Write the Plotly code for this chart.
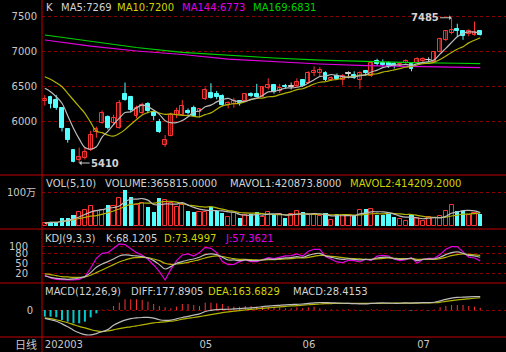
import plotly.graph_objects as go
import pandas as pd

W, H = 506, 352

# ---------------- data ----------------
opens = [6300, 6360, 6310, 6190, 5900, 5600, 5450, 5480, 5600, 5860,
         5980, 6070, 5980, 5910, 6400, 6360, 6080, 6130, 6260, 6140,
         6000, 5670, 5800, 6100, 6100, 6160, 6200, 6145, 6320, 6410,
         6400, 6370, 6240, 6250, 6290, 6290, 6390, 6400, 6360, 6480,
         6520, 6440, 6510, 6500, 6510, 6600, 6550, 6700, 6690, 6700,
         6600, 6660, 6590, 6690, 6670, 6590, 6720, 6650, 6870, 6840,
         6840, 6830, 6810, 6845, 6830, 6840, 6870, 6880, 6860, 7000,
         7170, 7270, 7320, 7290, 7250, 7240, 7300]
highs = [6380, 6370, 6380, 6200, 5910, 5600, 5630, 5640, 5870, 5930,
         6160, 6090, 6100, 6310, 6560, 6370, 6230, 6270, 6280, 6160,
         6040, 5810, 6130, 6200, 6310, 6190, 6230, 6190, 6490, 6550,
         6440, 6390, 6290, 6340, 6310, 6410, 6420, 6540, 6510, 6620,
         6540, 6540, 6540, 6560, 6620, 6610, 6720, 6790, 6780, 6720,
         6650, 6690, 6680, 6720, 6720, 6720, 6740, 6860, 6900, 6890,
         6860, 6850, 6850, 6890, 6850, 6920, 6920, 6920, 7010, 7200,
         7300, 7485, 7400, 7300, 7320, 7430, 7310]
lows = [6230, 6190, 6170, 5860, 5700, 5420, 5410, 5460, 5580, 5770,
        5970, 5890, 5960, 5900, 6300, 6130, 6050, 6100, 6120, 6020,
        5840, 5640, 5790, 6050, 6090, 6100, 6070, 6060, 6310, 6330,
        6320, 6220, 6190, 6200, 6230, 6280, 6350, 6350, 6350, 6460,
        6400, 6410, 6470, 6460, 6500, 6500, 6540, 6650, 6640, 6580,
        6580, 6600, 6520, 6620, 6610, 6470, 6660, 6640, 6800, 6790,
        6770, 6760, 6790, 6830, 6720, 6820, 6850, 6850, 6850, 6990,
        7150, 7250, 7210, 7170, 7220, 7230, 7230]
closes = [6330, 6260, 6190, 5910, 5740, 5430, 5500, 5570, 5810, 5900,
          6120, 5910, 6050, 6270, 6310, 6170, 6190, 6240, 6150, 6080,
          5860, 5740, 6100, 6160, 6220, 6130, 6080, 6175, 6460, 6340,
          6360, 6240, 6270, 6290, 6270, 6390, 6370, 6360, 6490, 6520,
          6420, 6480, 6490, 6500, 6570, 6510, 6690, 6720, 6740, 6590,
          6630, 6610, 6650, 6690, 6630, 6700, 6690, 6840, 6825, 6810,
          6790, 6790, 6830, 6870, 6750, 6900, 6890, 6880, 7000, 7180,
          7290, 7310, 7290, 7230, 7290, 7285, 7240]

# moving-average values before a full window is available
ma5_head = [6477, 6429, 6357, 6263]
ma10_head = [6643, 6606, 6557, 6500, 6406, 6310, 6214, 6120, 5990]

# long moving averages, read at sampled bars
ma_long_idx = [0, 8, 16, 24, 32, 40, 48, 56, 64, 72, 76]
ma144 = [7167, 7080, 7010, 6960, 6895, 6855, 6824, 6800, 6785, 6775, 6773]
ma169 = [7239, 7150, 7060, 6990, 6945, 6910, 6880, 6860, 6845, 6835, 6831]

volumes = [80000, 130000, 110000, 230000, 250000, 320000, 420000, 470000, 590000, 450000,
           470000, 620000, 590000, 810000, 1060000, 860000, 620000, 690000, 570000, 420000,
           810000, 760000, 670000, 570000, 620000, 450000, 420000, 420000, 420000, 550000,
           440000, 390000, 270000, 370000, 250000, 320000, 350000, 420000, 270000, 400000,
           350000, 350000, 230000, 350000, 450000, 400000, 320000, 320000, 290000, 370000,
           180000, 350000, 320000, 320000, 320000, 470000, 490000, 490000, 320000, 320000,
           350000, 270000, 200000, 160000, 320000, 230000, 160000, 270000, 250000, 290000,
           450000, 620000, 450000, 450000, 320000, 390000, 365815]

k_vals = [12, 8, 5, 3, 2, 3, 6, 10, 22, 38,
          48, 55, 63, 72, 75, 74, 72, 70, 66, 58,
          46, 33, 40, 50, 55, 60, 63, 68, 76, 78,
          76, 68, 60, 60, 58, 60, 58, 58, 60, 63,
          62, 64, 66, 67, 70, 68, 74, 78, 80, 72,
          68, 64, 62, 63, 62, 60, 62, 61, 66, 68,
          68, 64, 62, 63, 65, 58, 62, 63, 63, 68,
          76, 82, 84, 80, 74, 72, 68.12]
d_vals = [18, 16, 13, 10, 9, 8, 8, 9, 14, 22,
          30, 38, 46, 54, 60, 65, 67, 68, 67, 63,
          58, 50, 47, 48, 50, 53, 57, 61, 66, 70,
          72, 70, 67, 64, 62, 62, 61, 60, 60, 61,
          61, 62, 63, 64, 66, 66, 68, 71, 74, 73,
          71, 69, 67, 65, 64, 63, 62, 62, 63, 65,
          66, 65, 64, 64, 64, 62, 62, 62, 62, 64,
          68, 73, 76, 78, 77, 75, 73.50]
j_vals = [15, 6, 2, 0, 0, 0, 2, 10, 35, 65,
          80, 82, 95, 108, 106, 95, 82, 74, 62, 45,
          25, 0, 32, 58, 75, 78, 72, 82, 98, 95,
          82, 55, 46, 47, 55, 60, 55, 55, 60, 67,
          64, 68, 72, 73, 78, 72, 86, 92, 92, 70,
          62, 54, 52, 59, 58, 54, 62, 59, 72, 74,
          72, 62, 58, 61, 67, 50, 62, 65, 65, 76,
          92, 100, 100, 84, 68, 66, 57.36]

diff_vals = [-111, -130, -150, -185, -225, -270, -305, -330, -333, -315,
             -290, -262, -205, -165, -135, -115, -105, -100, -98, -108,
             -130, -138, -135, -118, -100, -85, -68, -52, -20, -5,
             5, 8, 10, 14, 18, 24, 28, 35, 45, 52,
             58, 63, 68, 72, 76, 80, 88, 96, 100, 98,
             96, 93, 90, 88, 85, 82, 82, 88, 92, 94,
             92, 90, 90, 94, 92, 96, 98, 98, 104, 122,
             142, 158, 168, 172, 176, 178, 177.89]
dea_vals = [-105, -115, -130, -150, -170, -195, -220, -240, -262, -280,
            -288, -280, -265, -248, -235, -225, -212, -200, -185, -172,
            -165, -158, -150, -140, -122, -110, -100, -88, -75, -62,
            -48, -35, -25, -15, -8, 0, 8, 15, 22, 28,
            35, 42, 48, 54, 58, 64, 70, 76, 80, 84,
            86, 88, 88, 88, 88, 88, 88, 88, 89, 90,
            90, 91, 91, 92, 92, 93, 94, 95, 97, 103,
            115, 125, 135, 143, 150, 157, 163.68]
macd_hist = [-89, -89, -98, -134, -156, -178, -178, -156, -98, -45,
             5, 9, 53, 98, 143, 143, 143, 134, 111, 80,
             53, 36, 22, 45, 80, 80, 67, 53, 98, 98,
             89, 80, 53, 45, 45, 53, 53, 45, 45, 36,
             36, 36, 22, 22, 36, 22, 36, 45, 22, 9,
             9, 5, 5, 9, 5, -5, 5, 9, 9, 5,
             5, -5, -5, 5, -9, 5, 5, -5, 5, 36,
             53, 67, 67, 67, 53, 45, 28.42]

month_pos = [0, 27, 45, 65]
month_labels = ["202003", "05", "06", "07"]

# ---------------- derived ----------------
n = len(closes)
xs = list(range(n))
cl = pd.Series(closes, dtype=float)
ma5 = ma5_head + cl.rolling(5).mean().tolist()[len(ma5_head):]
ma10 = ma10_head + cl.rolling(10).mean().tolist()[len(ma10_head):]
vs = pd.Series(volumes, dtype=float)
mavol1 = vs.rolling(5, min_periods=1).mean().tolist()
mavol2 = vs.rolling(10, min_periods=1).mean().tolist()

RED = "#ff3232"
CYAN = "#54ffff"
WHITE = "#d2d2d2"
YEL = "#d2d200"
MAG = "#e000e0"
GRN = "#00d200"
GRID = "#8c0000"
SEP = "#c00000"
FONT = "DejaVu Sans, Noto Sans CJK SC, sans-serif"

up = [i for i in xs if closes[i] > opens[i]]
dn = [i for i in xs if closes[i] < opens[i]]
dj = [i for i in xs if closes[i] == opens[i]]


def wick(ids):
    wx, wy = [], []
    for i in ids:
        wx += [i, i, None]
        wy += [lows[i], highs[i], None]
    return wx, wy


fig = go.Figure()

# main panel --------------------------------------------------------
for ids, col in ((up, RED), (dn, CYAN), (dj, WHITE)):
    wx, wy = wick(ids)
    fig.add_trace(go.Scatter(x=wx, y=wy, mode="lines", line=dict(color=col, width=1),
                             xaxis="x", yaxis="y", hoverinfo="skip"))
fig.add_trace(go.Bar(x=up, y=[closes[i] - opens[i] for i in up], base=[opens[i] for i in up],
                     width=0.68, marker=dict(color="black", line=dict(color=RED, width=1)),
                     xaxis="x", yaxis="y"))
fig.add_trace(go.Bar(x=dn, y=[opens[i] - closes[i] for i in dn], base=[closes[i] for i in dn],
                     width=0.68, marker=dict(color=CYAN, line=dict(color=CYAN, width=1)),
                     xaxis="x", yaxis="y"))
fig.add_trace(go.Bar(x=dj, y=[6 for _ in dj], base=[closes[i] - 3 for i in dj],
                     width=0.9, marker=dict(color=WHITE, line=dict(color=WHITE, width=1)),
                     xaxis="x", yaxis="y"))
fig.add_trace(go.Scatter(x=ma_long_idx, y=ma169, mode="lines", line=dict(color=GRN, width=1.2),
                         xaxis="x", yaxis="y"))
fig.add_trace(go.Scatter(x=ma_long_idx, y=ma144, mode="lines", line=dict(color=MAG, width=1.2),
                         xaxis="x", yaxis="y"))
fig.add_trace(go.Scatter(x=xs, y=ma10, mode="lines", line=dict(color="#b4b400", width=1.2, shape="spline"),
                         xaxis="x", yaxis="y"))
fig.add_trace(go.Scatter(x=xs, y=ma5, mode="lines", line=dict(color="#bcbcbc", width=1.2, shape="spline"),
                         xaxis="x", yaxis="y"))

# volume panel -------------------------------------------------------
up_v = [i for i in xs if closes[i] >= opens[i]]
fig.add_trace(go.Bar(x=up_v, y=[volumes[i] for i in up_v], width=0.72,
                     marker=dict(color="black", line=dict(color=RED, width=1)),
                     xaxis="x2", yaxis="y2"))
fig.add_trace(go.Bar(x=dn, y=[volumes[i] for i in dn], width=0.72,
                     marker=dict(color=CYAN, line=dict(width=0)),
                     xaxis="x2", yaxis="y2"))
fig.add_trace(go.Scatter(x=xs, y=mavol2, mode="lines", line=dict(color="#b4b400", width=1.2, shape="spline"),
                         xaxis="x2", yaxis="y2"))
fig.add_trace(go.Scatter(x=xs, y=mavol1, mode="lines", line=dict(color="#bcbcbc", width=1.2, shape="spline"),
                         xaxis="x2", yaxis="y2"))

# KDJ panel ----------------------------------------------------------
fig.add_trace(go.Scatter(x=xs, y=j_vals, mode="lines", line=dict(color=MAG, width=1.2),
                         xaxis="x3", yaxis="y3"))
fig.add_trace(go.Scatter(x=xs, y=d_vals, mode="lines", line=dict(color="#b4b400", width=1.2, shape="spline"),
                         xaxis="x3", yaxis="y3"))
fig.add_trace(go.Scatter(x=xs, y=k_vals, mode="lines", line=dict(color="#bcbcbc", width=1.2, shape="spline"),
                         xaxis="x3", yaxis="y3"))

# MACD panel ---------------------------------------------------------
hx_p, hy_p, hx_n, hy_n = [], [], [], []
for i in xs:
    if macd_hist[i] >= 0:
        hx_p += [i, i, None]
        hy_p += [0, macd_hist[i], None]
    else:
        hx_n += [i, i, None]
        hy_n += [0, macd_hist[i], None]
fig.add_trace(go.Scatter(x=hx_p, y=hy_p, mode="lines", line=dict(color=RED, width=1),
                         xaxis="x4", yaxis="y4"))
fig.add_trace(go.Scatter(x=hx_n, y=hy_n, mode="lines", line=dict(color="#00c8c8", width=2),
                         xaxis="x4", yaxis="y4"))
fig.add_trace(go.Scatter(x=xs, y=dea_vals, mode="lines", line=dict(color="#b4b400", width=1.2, shape="spline"),
                         xaxis="x4", yaxis="y4"))
fig.add_trace(go.Scatter(x=xs, y=diff_vals, mode="lines", line=dict(color="#bcbcbc", width=1.2, shape="spline"),
                         xaxis="x4", yaxis="y4"))


def pdom(top_px, bot_px):
    return [1 - bot_px / H, 1 - top_px / H]


XR = [-0.49, 80.5]
XD = [42 / W, 1]
xcommon = dict(range=XR, domain=XD, showgrid=False, zeroline=False, showline=False,
               ticks="", fixedrange=True)
ycommon = dict(zeroline=False, showline=False, ticks="", griddash="dot", gridcolor=GRID,
               gridwidth=1, tickfont=dict(family=FONT, size=10, color="#c8c8c8"))

layout = dict(
    width=W, height=H, margin=dict(l=0, r=0, t=0, b=0),
    paper_bgcolor="black", plot_bgcolor="black", showlegend=False,
    barmode="overlay", bargap=0,
    xaxis=dict(xcommon, anchor="y", showticklabels=False),
    xaxis2=dict(xcommon, anchor="y2", showticklabels=False, matches="x"),
    xaxis3=dict(xcommon, anchor="y3", showticklabels=False, matches="x"),
    xaxis4=dict(xcommon, anchor="y4", matches="x", showticklabels=True,
                tickvals=month_pos, ticktext=month_labels, ticklabelposition="outside right",
                tickfont=dict(family=FONT, size=10, color="#c8c8c8")),
    yaxis=dict(ycommon, anchor="x", domain=pdom(0, 175), range=[5238.6, 7738.6],
               tickvals=[6000, 6500, 7000, 7500], ticklabelstandoff=4),
    yaxis2=dict(ycommon, anchor="x2", domain=pdom(175, 229), range=[-88000, 1500000],
                tickvals=[1000000], ticktext=["100万"], ticklabelstandoff=5),
    yaxis3=dict(ycommon, anchor="x3", domain=pdom(229, 283), range=[-9.1, 152.9],
                tickvals=[20, 50, 80, 100], ticklabelstandoff=13),
    yaxis4=dict(ycommon, anchor="x4", domain=pdom(283, 337), range=[-361, 361],
                tickvals=[0], ticklabelstandoff=8),
)
fig.update_layout(**layout)

# panel separators
shapes = []
for yp in (175, 229, 283, 337):
    shapes.append(dict(type="line", xref="paper", yref="paper", x0=0, x1=1,
                       y0=1 - yp / H, y1=1 - yp / H, line=dict(color=SEP, width=1)))
shapes.append(dict(type="line", xref="paper", yref="paper", x0=42 / W, x1=42 / W,
                   y0=0, y1=1, line=dict(color=SEP, width=1)))
fig.update_layout(shapes=shapes)

# header texts
headers = [
    (44, 8, "K", WHITE), (59, 8, "MA5:7269", WHITE), (115, 8, "MA10:7200", YEL),
    (180, 8, "MA144:6773", MAG), (251, 8, "MA169:6831", GRN),
    (44, 183, "VOL(5,10)", WHITE), (103, 183, "VOLUME:365815.0000", WHITE),
    (228, 183, "MAVOL1:420873.8000", WHITE), (348, 183, "MAVOL2:414209.2000", YEL),
    (43, 238, "KDJ(9,3,3)", WHITE), (104, 238, "K:68.1205", WHITE),
    (162, 238, "D:73.4997", YEL), (223, 238, "J:57.3621", MAG),
    (43, 291, "MACD(12,26,9)", WHITE), (129, 291, "DIFF:177.8905", WHITE),
    (206, 291, "DEA:163.6829", YEL), (291, 291, "MACD:28.4153", WHITE),
]
ann = []
for xp, yp, t, c in headers:
    ann.append(dict(x=xp / W, y=1 - yp / H, xref="paper", yref="paper", text=t,
                    showarrow=False, xanchor="left", yanchor="middle",
                    font=dict(family=FONT, size=10, color=c)))
ann.append(dict(x=26 / W, y=1 - 345 / H, xref="paper", yref="paper", text="日线",
                showarrow=False, xanchor="center", yanchor="middle",
                font=dict(family=FONT, size=11, color="#c8c8c8")))
hi_i = highs.index(max(highs))
lo_i = lows.index(min(lows))
ann.append(dict(x=hi_i, y=highs[hi_i], xref="x", yref="y", text="<b>%d</b>" % highs[hi_i],
                showarrow=True, ax=-27, ay=0, arrowhead=1, arrowsize=0.8, arrowwidth=1,
                arrowcolor="#c8c8c8", font=dict(family=FONT, size=10, color="#d2d2d2")))
ann.append(dict(x=lo_i, y=lows[lo_i], xref="x", yref="y", text="<b>%d</b>" % lows[lo_i],
                showarrow=True, ax=26, ay=0, arrowhead=1, arrowsize=0.8, arrowwidth=1,
                arrowcolor="#c8c8c8", font=dict(family=FONT, size=10, color="#d2d2d2")))
fig.update_layout(annotations=ann)

fig.write_html("out.html")
